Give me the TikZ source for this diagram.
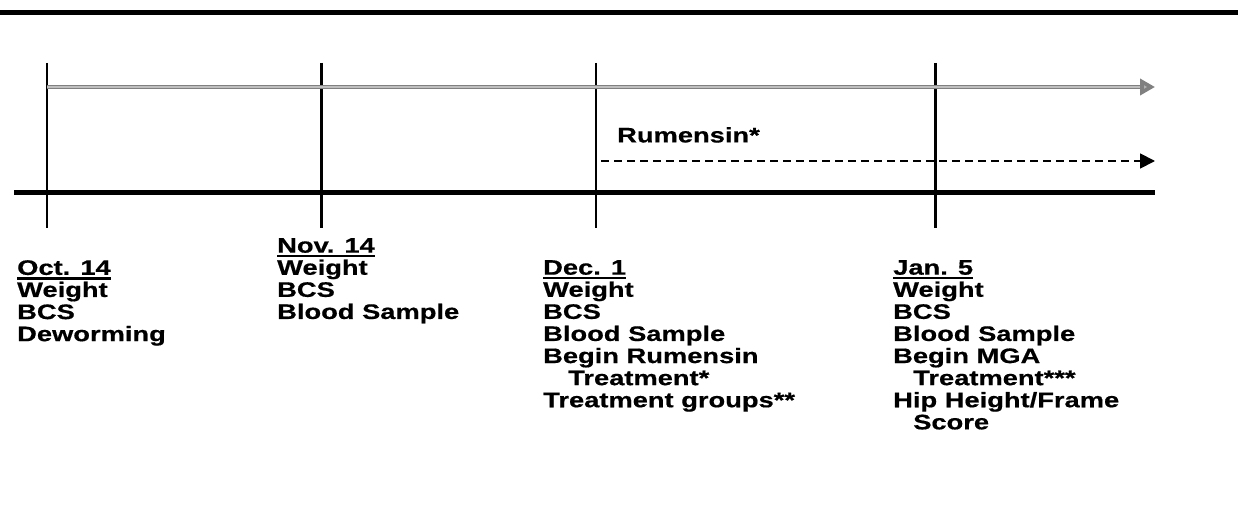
\documentclass[tikz,border=0pt]{standalone}
\usepackage{fontspec}
\setmainfont{Liberation Sans}[FakeStretch=1.3, BoldFeatures={FakeBold=0.6}]
\usetikzlibrary{arrows.meta}
\newlength\dulw
\newcommand\dul[1]{\settowidth\dulw{#1}\rlap{\rule[-4.8pt]{\dulw}{2.4pt}}#1}
\newcommand\ind{\hspace*{25pt}}
\newcommand\indb{\hspace*{20pt}}
\begin{document}
\begin{tikzpicture}[x=1pt,y=-1pt,
  txt/.style={font={\fontsize{21}{22.1}\selectfont\bfseries}, inner sep=0pt, align=left, anchor=north west},
  thickrule/.style={line width=5pt},
  tick/.style={line width=2.2pt},
  grayarrow/.style={line width=4pt, draw=black!50, -{Triangle[length=15pt,width=16pt,fill=black!30]}},
  grayinner/.style={line width=1.6pt, draw=black!25},
  dasharrow/.style={line width=1.8pt, dash pattern=on 8pt off 5pt, -{Triangle[length=15pt,width=15pt]}}]
\useasboundingbox (0,0) rectangle (1238,508);
% top rule
\coordinate (tl) at (0,13);
\coordinate (tr) at (1238,13);
\draw[thickrule] (tl) -- (tr);
% vertical ticks
\foreach \n/\x in {a/47,b/321.5,c/596,d/935.5}{
  \coordinate (\n t) at (\x,63);
  \coordinate (\n b) at (\x,228);
  \draw[tick] (\n t) -- (\n b);
}
% main timeline
\coordinate (ml) at (14,192);
\coordinate (mr) at (1155,192);
\draw[thickrule] (ml) -- (mr);
% gray arrow
\coordinate (ga) at (47,87);
\coordinate (gb) at (1155,87);
\coordinate (gi) at (1140,87);
\draw[grayarrow] (ga) -- (gb);
\draw[grayinner] (ga) -- (gi);
% dashed arrow
\coordinate (da) at (601,161);
\coordinate (db) at (1155,161);
\draw[dasharrow] (da) -- (db);
\node[txt] (rum) at (617,127) {Rumensin*};
% columns
\node[txt] (oct) at (17,260) {\dul{Oct. 14}\\Weight\\BCS\\Deworming};
\node[txt] (nov) at (277,238) {\dul{Nov. 14}\\Weight\\BCS\\Blood Sample};
\node[txt] (dec) at (543,260) {\dul{Dec. 1}\\Weight\\BCS\\Blood Sample\\Begin Rumensin\\\ind Treatment*\\Treatment groups**};
\node[txt] (jan) at (893,260) {\dul{Jan. 5}\\Weight\\BCS\\Blood Sample\\Begin MGA\\\indb Treatment***\\Hip Height/Frame\\\indb Score};
\end{tikzpicture}
\end{document}
